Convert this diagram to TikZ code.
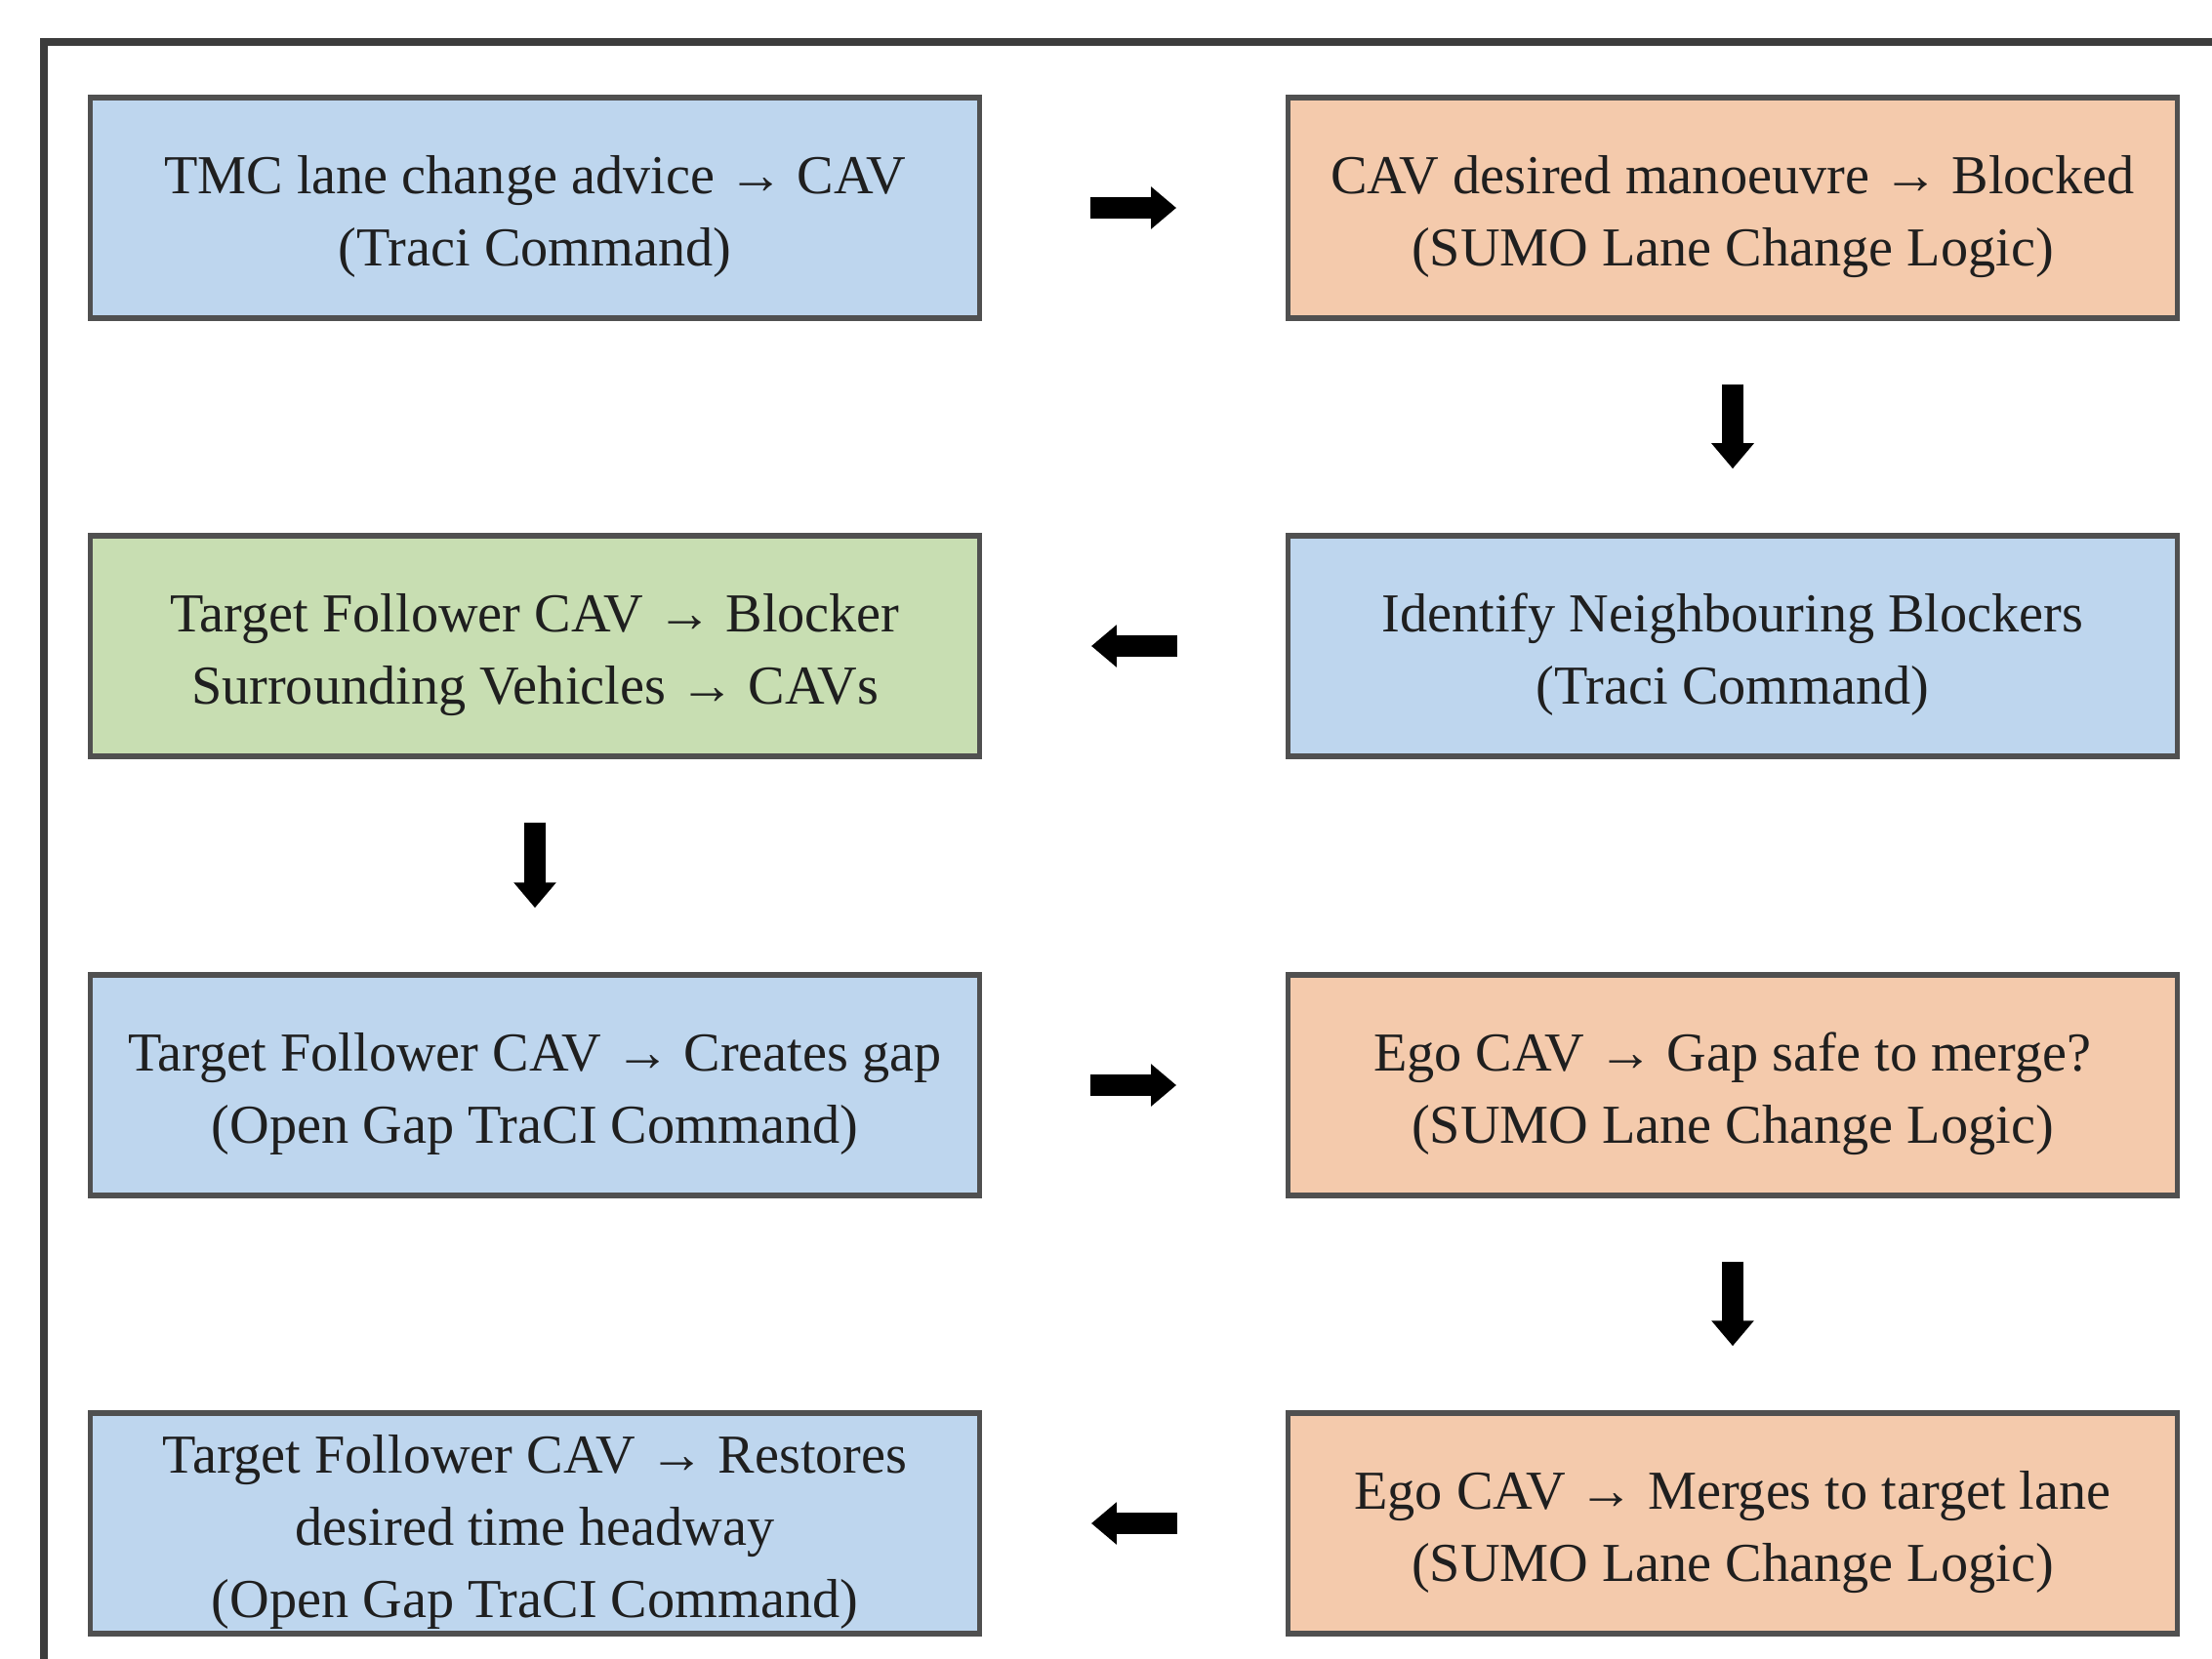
\documentclass[tikz,border=0pt]{standalone}
\usepackage{fontspec}
\setmainfont{Liberation Serif}
\usetikzlibrary{arrows.meta}
\definecolor{boxblue}{RGB}{190,214,238}
\definecolor{boxorange}{RGB}{244,202,172}
\definecolor{boxgreen}{RGB}{200,222,178}
\definecolor{edgegray}{RGB}{80,80,80}
\definecolor{framegray}{RGB}{60,60,60}
\newcommand{\boxtxt}[1]{\raisebox{-2.2pt}[\height][\depth]{\begin{tabular}{@{}c@{}}#1\end{tabular}}}
\tikzset{
  flowbox/.style={draw=edgegray, line width=1.5pt, minimum width=9.1cm, minimum height=2.26cm,
    inner sep=0pt, font=\fontsize{16}{21}\selectfont, text=black!88},
  bluebox/.style={flowbox, fill=boxblue},
  orangebox/.style={flowbox, fill=boxorange},
  greenbox/.style={flowbox, fill=boxgreen},
  blockarrow/.style={line width=0.22cm, black, -{Triangle[length=0.26cm, width=0.42cm]}},
  harrow/.style={blockarrow, shorten <=1.11cm, shorten >=1.12cm},
  varrow/.style={blockarrow, shorten <=0.65cm, shorten >=0.66cm}
}
\begin{document}
\begin{tikzpicture}[x=0.01cm, y=-0.01cm]
\clip (0,0) rectangle (2266,1700);
\fill[white] (0,0) rectangle (2266,1700);
\draw[framegray, line width=2.2pt] (45,43) rectangle (2320,1760);

\node[bluebox]   (a) at (548,213)   {\boxtxt{TMC lane change advice → CAV\\(Traci Command)}};
\node[orangebox] (b) at (1775,213)  {\boxtxt{CAV desired manoeuvre → Blocked\\(SUMO Lane Change Logic)}};
\node[bluebox]   (c) at (1775,662)  {\boxtxt{Identify Neighbouring Blockers\\(Traci Command)}};
\node[greenbox]  (d) at (548,662)   {\boxtxt{Target Follower CAV → Blocker\\Surrounding Vehicles → CAVs}};
\node[bluebox]   (e) at (548,1112)  {\boxtxt{Target Follower CAV → Creates gap\\(Open Gap TraCI Command)}};
\node[orangebox] (f) at (1775,1112) {\boxtxt{Ego CAV → Gap safe to merge?\\(SUMO Lane Change Logic)}};
\node[orangebox] (g) at (1775,1561) {\boxtxt{Ego CAV → Merges to target lane\\(SUMO Lane Change Logic)}};
\node[bluebox]   (h) at (548,1561)  {\boxtxt{Target Follower CAV → Restores\\desired time headway\\(Open Gap TraCI Command)}};

\draw[harrow] (a.east) -- (b.west);
\draw[varrow] (b.south) -- (c.north);
\draw[harrow] (c.west) -- (d.east);
\draw[varrow] (d.south) -- (e.north);
\draw[harrow] (e.east) -- (f.west);
\draw[varrow] (f.south) -- (g.north);
\draw[harrow] (g.west) -- (h.east);
\end{tikzpicture}
\end{document}
